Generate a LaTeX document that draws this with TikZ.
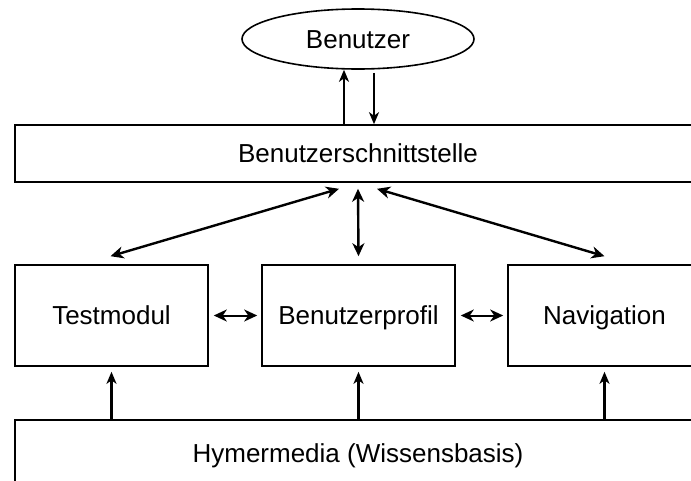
\documentclass[tikz,border=0pt]{standalone}
\usepackage{fontspec}
\setmainfont{Liberation Sans}
\usetikzlibrary{arrows.meta,shapes.geometric}

\begin{document}
\begin{tikzpicture}[x=1pt,y=-1pt,
  box/.style={draw,line width=1.6pt,inner sep=0pt,minimum width=193pt,minimum height=101pt,
    text height=18.6pt,text depth=0pt,font=\fontsize{26}{31}\selectfont},
  wide/.style={box,minimum width=686pt},
  oval/.style={draw,ellipse,line width=1.6pt,inner sep=0pt,minimum width=232pt,minimum height=60pt,
    text height=18.6pt,text depth=0pt,font=\fontsize{26}{31}\selectfont},
  link/.style={line width=2.4pt,{Stealth[length=13pt,width=12pt,inset=4pt]}-{Stealth[length=13pt,width=12pt,inset=4pt]}},
  feed/.style={line width=2.1pt,-{Stealth[length=12pt,width=10pt,inset=3.5pt]}}]
\useasboundingbox (0,0) rectangle (691,480);
\clip (0,0) rectangle (691,480);

% Schichten
\node[oval] (usr) at (358,39) {Benutzer};
\node[wide,minimum height=57pt] (gui) at (358,153.5) {Benutzerschnittstelle};
\node[box] (test) at (111.5,315.5) {Testmodul};
\node[box] (prof) at (358.5,315.5) {Benutzerprofil};
\node[box] (nav) at (604.5,315.5) {Navigation};
\node[wide,minimum height=67pt] (hyp) at (358,453.5) {Hymermedia (Wissensbasis)};

% Benutzer <-> Schnittstelle
\draw[feed] ([xshift=-14pt]usr.south |- gui.north) -- ([xshift=-14pt]usr.south);
\draw[feed] ([xshift=16pt,yshift=-3pt]usr.south) -- ([xshift=16pt]usr.south |- gui.north);

% Schnittstelle <-> Module
\draw[link] ([xshift=-19pt,yshift=-6pt]gui.south) -- ([xshift=-1pt,yshift=8pt]test.north);
\draw[link] ([yshift=-6pt]gui.south) -- ([yshift=8pt]prof.north);
\draw[link] ([xshift=19pt,yshift=-6pt]gui.south) -- ([yshift=8pt]nav.north);

% Module untereinander
\draw[link,line width=2pt,shorten <=5pt,shorten >=4pt] (test.east) -- (prof.west);
\draw[link,line width=2pt,shorten <=5pt,shorten >=4pt] (prof.east) -- (nav.west);

% Wissensbasis -> Module
\draw[feed,shorten >=5pt] (test.south |- hyp.north) -- (test.south);
\draw[feed,shorten >=5pt] (prof.south |- hyp.north) -- (prof.south);
\draw[feed,shorten >=5pt] (nav.south |- hyp.north) -- (nav.south);
\end{tikzpicture}
\end{document}
